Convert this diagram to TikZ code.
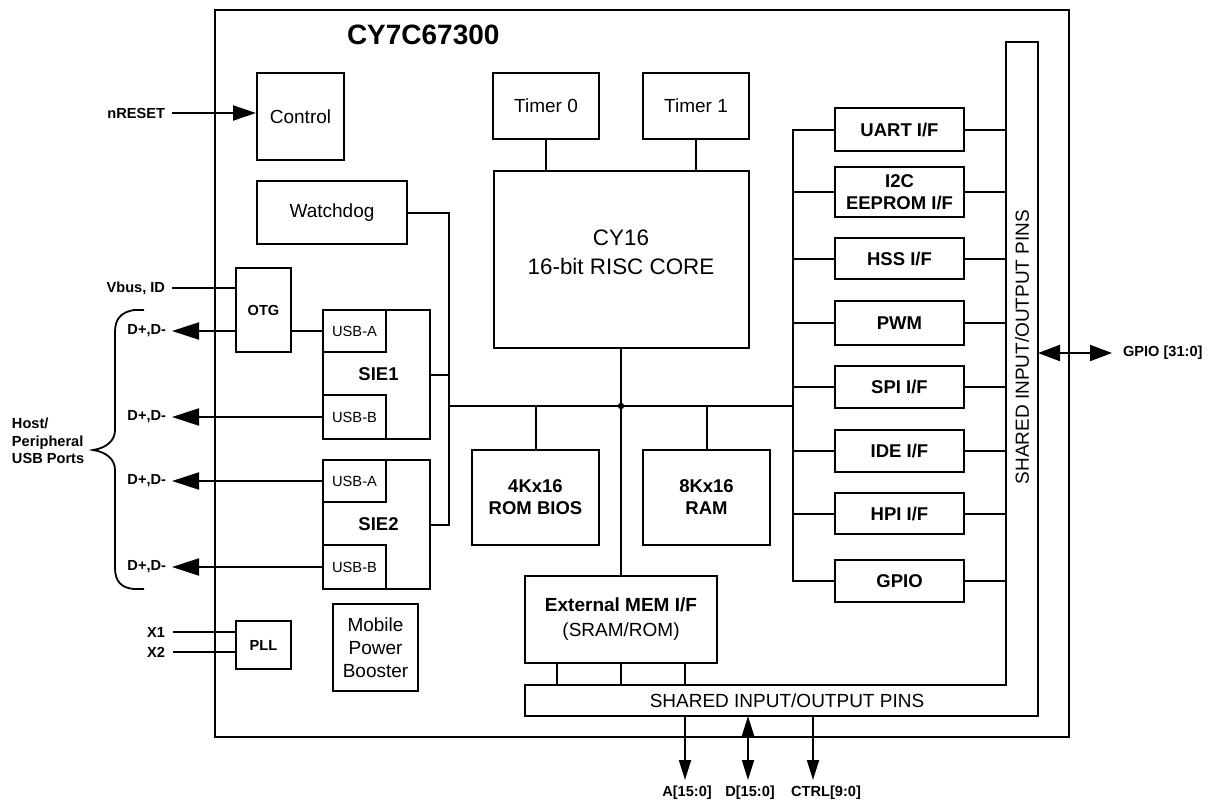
\documentclass[tikz,border=0pt]{standalone}
\usepackage{fontspec}
\setmainfont{Liberation Sans}
\usetikzlibrary{arrows.meta}
\tikzset{
 box/.style={draw, line width=2pt, inner sep=0pt, align=center, font=\fontsize{19}{23}\selectfont},
 bbox/.style={box, font=\bfseries\fontsize{18.5}{22}\selectfont},
 sbox/.style={box, font=\fontsize{14.7}{17}\selectfont},
 sbbox/.style={box, font=\bfseries\fontsize{14.6}{17}\selectfont},
 lbl/.style={font=\bfseries\fontsize{14.6}{17.5}\selectfont, inner sep=0pt, align=left},
 wire/.style={line width=2pt},
 arrbig/.style={wire, -{Triangle[length=27pt,width=17pt]}},
 arrmid/.style={wire, -{Triangle[length=23pt,width=15pt]}},
 arrdbl/.style={wire, {Triangle[length=22pt,width=16pt]}-{Triangle[length=22pt,width=16pt]}},
 arrsm/.style={wire, -{Triangle[length=20pt,width=12pt]}},
 arrsmd/.style={wire, {Triangle[length=20pt,width=12pt]}-{Triangle[length=20pt,width=12pt]}},
}
\begin{document}
\begin{tikzpicture}[x=1pt,y=-1pt,line width=2pt,line join=miter]
\useasboundingbox[fill=white] (0,0) rectangle (1210,801);
% chip outline
\draw (215,10) rectangle (1069,737);
\node[font=\bfseries\fontsize{28}{32}\selectfont, anchor=west, inner sep=0pt] (title) at (346,35) {CY7C67300};
% shared pins L-shape
\draw (1006,42) -- (1038,42) -- (1038,716) -- (525,716) -- (525,685) -- (1006,685) -- cycle;
\node[rotate=90, font=\fontsize{19}{22}\selectfont, inner sep=0pt] (pinsv) at (1022,347) {SHARED INPUT/OUTPUT PINS};
\node[font=\fontsize{19}{22}\selectfont, inner sep=0pt] (pinsh) at (787,701) {SHARED INPUT/OUTPUT PINS};
\coordinate (pinsIn) at (1006,0);
\coordinate (pinsOut) at (1038,0);
\coordinate (pinsTop) at (0,685);
\coordinate (pinsBot) at (0,716);

% boxes
\node[box, minimum width=87, minimum height=87] (ctrl) at (300.5,116.5) {Control};
\node[box, minimum width=150, minimum height=63] (wdog) at (332,212.5) {Watchdog};
\node[sbbox, minimum width=55, minimum height=84] (otg) at (263.5,310) {OTG};
\node[bbox, minimum width=107, minimum height=129] (sie1) at (376.5,374.5) {\hspace*{4pt}SIE1};
\node[sbox, minimum width=63, minimum height=42] (usba1) at (354.5,331) {USB-A};
\node[sbox, minimum width=63, minimum height=44] (usbb1) at (354.5,417) {USB-B};
\node[bbox, minimum width=107, minimum height=129] (sie2) at (376.5,524.5) {\hspace*{4pt}SIE2};
\node[sbox, minimum width=63, minimum height=42] (usba2) at (354.5,481) {USB-A};
\node[sbox, minimum width=63, minimum height=44] (usbb2) at (354.5,567) {USB-B};
\node[sbbox, minimum width=55, minimum height=48] (pll) at (263.5,645) {PLL};
\node[box, minimum width=85, minimum height=87] (mpb) at (375.5,647.5) {Mobile\\Power\\Booster};
\node[box, minimum width=106, minimum height=66] (t0) at (546,106) {Timer 0};
\node[box, minimum width=106, minimum height=66] (t1) at (696,106) {Timer 1};
\node[box, minimum width=255, minimum height=177, font=\fontsize{22.4}{29}\selectfont] (cpu) at (621,259.5) {CY16\\16-bit RISC CORE\\[-15pt]\mbox{}};
\node[bbox, minimum width=127, minimum height=95] (rom) at (535.5,497.5) {4Kx16\\ROM BIOS};
\node[bbox, minimum width=127, minimum height=95] (ram) at (706.5,497.5) {8Kx16\\RAM};
\node[box, minimum width=192, minimum height=87, font=\fontsize{19}{25}\selectfont] (ext) at (621,619.5) {\textbf{External MEM I/F}\\(SRAM/ROM)};
\node[bbox, minimum width=129, minimum height=43] (uart) at (899.5,129.5) {UART I/F};
\node[bbox, minimum width=129, minimum height=50] (i2c) at (899.5,192) {I2C\\EEPROM I/F};
\node[bbox, minimum width=129, minimum height=41] (hss) at (899.5,258.5) {HSS I/F};
\node[bbox, minimum width=129, minimum height=44] (pwm) at (899.5,323) {PWM};
\node[bbox, minimum width=129, minimum height=42] (spi) at (899.5,387) {SPI I/F};
\node[bbox, minimum width=129, minimum height=42] (ide) at (899.5,451) {IDE I/F};
\node[bbox, minimum width=129, minimum height=41] (hpi) at (899.5,513.5) {HPI I/F};
\node[bbox, minimum width=129, minimum height=42] (gpio) at (899.5,581) {GPIO};

% internal bus
\coordinate (vx) at (449,0);
\coordinate (vr) at (793,0);
\coordinate (bus) at (621,406);
\draw (wdog.east) -- (wdog.east -| vx) -- (sie2.east -| vx) -- (sie2.east);
\draw (sie1.east) -- (sie1.east -| vx);
\draw (bus -| vx) -- (bus -| vr);
\fill (bus) circle (3.2);
\draw (cpu.south) -- (ext.north);
\draw (t0.south) -- (t0.south |- cpu.north);
\draw (t1.south) -- (t1.south |- cpu.north);
\draw (rom.north) -- (rom.north |- bus);
\draw (ram.north) -- (ram.north |- bus);
\draw (uart.west) -- (uart.west -| vr) -- (gpio.west -| vr) -- (gpio.west);
\foreach \b in {i2c,hss,pwm,spi,ide,hpi} {\draw (\b.west) -- (\b.west -| vr);}
\foreach \b in {uart,i2c,hss,pwm,spi,ide,hpi,gpio} {\draw (\b.east) -- (\b.east -| pinsIn);}
\coordinate (e1x) at (557,0);
\coordinate (e3x) at (685,0);
\draw (ext.south -| e1x) -- (pinsTop -| e1x);
\draw (ext.south) -- (ext.south |- pinsTop);
\draw (ext.south -| e3x) -- (pinsTop -| e3x);
\draw (otg.east |- usba1.west) -- (usba1.west);

% left signals
\node[lbl, anchor=east] (nreset) at (166,113) {nRESET};
\coordinate (nrs) at (172,113);
\draw[arrmid] (nrs) -- (nrs -| ctrl.west);
\node[lbl, anchor=east] (vbus) at (166,288) {Vbus, ID};
\coordinate (vbs) at (172,288);
\draw (vbs) -- (vbs -| otg.west);
\coordinate (tip) at (172,0);
\node[lbl, anchor=east] (d1) at (167,331) {D+,D-};
\node[lbl, anchor=east] (d2) at (167,417) {D+,D-};
\node[lbl, anchor=east] (d3) at (167,481) {D+,D-};
\node[lbl, anchor=east] (d4) at (167,567) {D+,D-};
\draw[arrbig] (otg.west |- usba1.west) -- (tip |- usba1.west);
\draw[arrbig] (usbb1.west) -- (usbb1.west -| tip);
\draw[arrbig] (usba2.west) -- (usba2.west -| tip);
\draw[arrbig] (usbb2.west) -- (usbb2.west -| tip);
\node[lbl, anchor=east] (x1) at (166,632) {X1};
\node[lbl, anchor=east] (x2) at (166,652) {X2};
\coordinate (xs) at (173,0);
\draw (xs |- x1) -- (x1 -| pll.west);
\draw (xs |- x2) -- (x2 -| pll.west);
% brace
\draw[line width=1.8pt] (144,310) -- (134,310) .. controls (122,312) and (115,318) .. (115,332) -- (115,430)
  .. controls (115,441) and (106,448) .. (93,450) .. controls (106,452) and (115,459) .. (115,470)
  -- (115,568) .. controls (115,582) and (122,588) .. (134,589) -- (144,589);
\node[lbl, anchor=west] (host) at (11,441) {Host/\\Peripheral\\USB Ports};

% right GPIO
\node[lbl, anchor=west] (gpiol) at (1122,353) {GPIO [31:0]};
\coordinate (gs) at (1038,353);
\coordinate (ge) at (1112,353);
\draw[arrdbl] (gs) -- (ge);

% bottom signals
\node[lbl] (alab) at (687,793) {A[15:0]};
\node[lbl] (dlab) at (750,793) {D[15:0]};
\node[lbl] (clab) at (826,793) {CTRL[9:0]};
\coordinate (aS) at (685,716);
\coordinate (dS) at (748,716);
\coordinate (cS) at (813,716);
\coordinate (endy) at (0,780);
\draw[arrsm] (aS) -- (aS |- endy);
\draw[arrsmd] (dS) -- (dS |- endy);
\draw[arrsm] (cS) -- (cS |- endy);
\end{tikzpicture}
\end{document}
